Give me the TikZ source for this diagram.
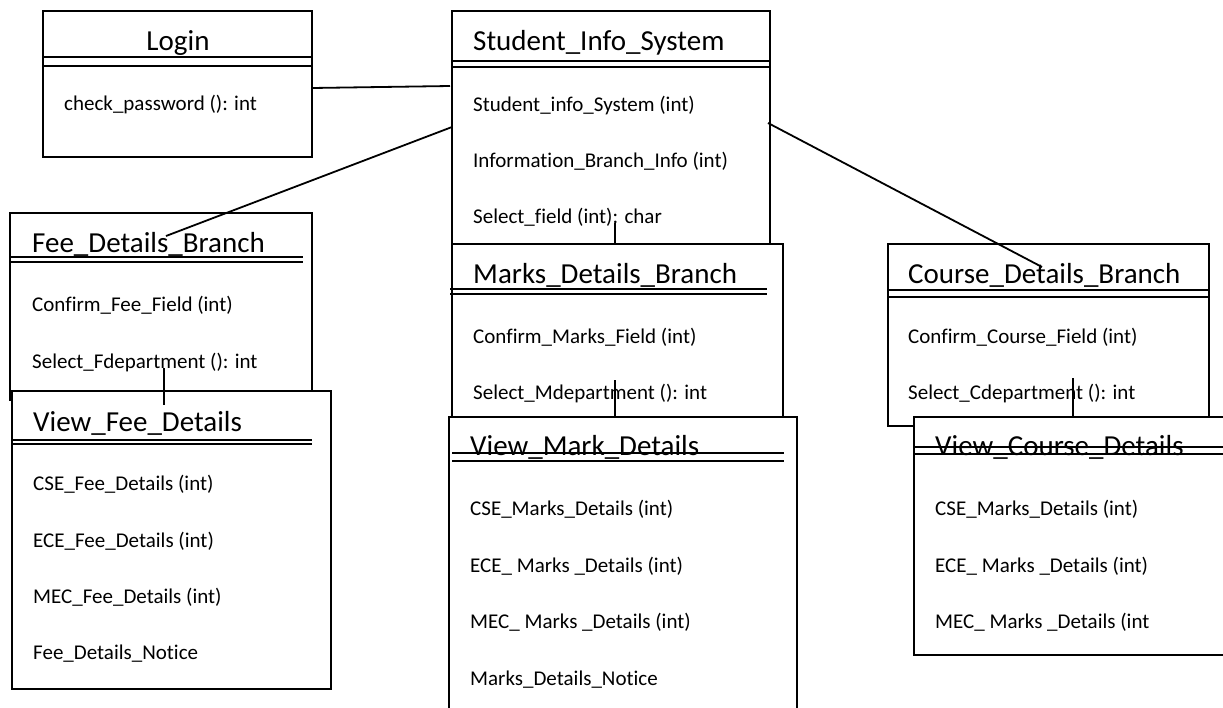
\documentclass[tikz,border=0pt]{standalone}
\usepackage{fontspec}
\setmainfont{Carlito}[Ligatures=NoCommon]
\begin{document}
\begin{tikzpicture}[x=1pt,y=-1pt,
  box/.style={draw,line width=2pt,fill=white,inner sep=0pt,outer sep=0pt,anchor=north west},
  sep/.style={line width=1.6pt},
  conn/.style={line width=1.8pt},
  title/.style={anchor=base west,inner sep=0pt,font=\fontsize{29}{34}\selectfont},
  item/.style={anchor=base west,inner sep=0pt,font=\fontsize{21}{25}\selectfont}]
\useasboundingbox (0,0) rectangle (1223,707);
\fill[white] (0,0) rectangle (1223,707);
\clip (0,0) rectangle (1223,707);

% Login
\node[box,minimum width=269pt,minimum height=146pt] (login) at (43,11) {};
\draw[sep] (43,57) -- (312,57) (43,66) -- (312,66);
\node[title,anchor=base] (logint) at (178,50) {Login};
\node[item] (login1) at (64,110) {check\_password (): int};

% Student_Info_System
\node[box,minimum width=318pt,minimum height=233pt] (sis) at (452,11) {};
\draw[sep] (452,61) -- (770,61) (452,67) -- (770,67);
\node[title] (sist) at (473,50) {Student\_Info\_System};
\node[item] (sis1) at (473,111) {Student\_info\_System (int)};
\node[item] (sis2) at (473,167) {Information\_Branch\_Info (int)};
\node[item] (sis3) at (473,223) {Select\_field (int): char};

% Fee_Details_Branch
\node[box,minimum width=302pt,minimum height=187pt] (fee) at (10,213) {};
\draw[sep] (10,257) -- (303,257) (10,262) -- (303,262);
\node[title] (feet) at (32,252) {Fee\_Details\_Branch};
\node[item] (fee1) at (32,311) {Confirm\_Fee\_Field (int)};
\node[item] (fee2) at (32,368) {Select\_Fdepartment (): int};

% Marks_Details_Branch
\node[box,minimum width=331pt,minimum height=186pt] (marks) at (452,244) {};
\draw[sep] (450,289) -- (767,289) (450,294) -- (767,294);
\node[title] (markst) at (473,283) {Marks\_Details\_Branch};
\node[item] (marks1) at (473,343) {Confirm\_Marks\_Field (int)};
\node[item] (marks2) at (473,399) {Select\_Mdepartment (): int};

% Course_Details_Branch
\node[box,minimum width=321pt,minimum height=182pt] (course) at (888,244) {};
\draw[sep] (888,290) -- (1209,290) (888,297) -- (1209,297);
\node[title] (courset) at (908,283) {Course\_Details\_Branch};
\node[item] (course1) at (908,343) {Confirm\_Course\_Field (int)};
\node[item] (course2) at (908,399) {Select\_Cdepartment (): int};

% View_Fee_Details
\node[box,minimum width=319pt,minimum height=298pt] (vfee) at (12,391) {};
\draw[sep] (12,440) -- (312,440) (12,444) -- (312,444);
\node[title] (vfeet) at (33,431) {View\_Fee\_Details};
\node[item] (vfee1) at (33,490) {CSE\_Fee\_Details (int)};
\node[item] (vfee2) at (33,547) {ECE\_Fee\_Details (int)};
\node[item] (vfee3) at (33,603) {MEC\_Fee\_Details (int)};
\node[item] (vfee4) at (33,659) {Fee\_Details\_Notice};

% View_Mark_Details
\node[box,minimum width=348pt,minimum height=303pt] (vmark) at (449,417) {};
\node[title] (vmarkt) at (470,455) {View\_Mark\_Details};
\draw[sep] (452,453) -- (784,453) (452,461) -- (784,461);
\node[item] (vmark1) at (470,515) {CSE\_Marks\_Details (int)};
\node[item] (vmark2) at (470,572) {ECE\_ Marks \_Details (int)};
\node[item] (vmark3) at (470,628) {MEC\_ Marks \_Details (int)};
\node[item] (vmark4) at (470,685) {Marks\_Details\_Notice};

% View_Course_Details
\node[box,minimum width=380pt,minimum height=238pt] (vcourse) at (914,417) {};
\node[title] (vcourset) at (935,455) {View\_Course\_Details};
\draw[sep] (914,447) -- (1290,447) (914,454) -- (1290,454);
\node[item] (vcourse1) at (935,515) {CSE\_Marks\_Details (int)};
\node[item] (vcourse2) at (935,572) {ECE\_ Marks \_Details (int)};
\node[item] (vcourse3) at (935,628) {MEC\_ Marks \_Details (int};

% connector end points
\coordinate (pLoginR) at (312,88);
\coordinate (pSisL1) at (450,86);
\coordinate (pSisL2) at (452,127);
\coordinate (pFeeIn) at (166,236);
\coordinate (pSisR) at (768,123);
\coordinate (pCourseIn) at (1042,267);
\coordinate (pSisDn) at (615,223);
\coordinate (pMarksTop) at (615,244);
\coordinate (pFeeDn) at (164,368);
\coordinate (pVFeeIn) at (164,405);
\coordinate (pMarksDn) at (615,380);
\coordinate (pVMarkTop) at (615,418);
\coordinate (pCourseDn) at (1073,378);
\coordinate (pVCourseTop) at (1073,417);

\draw[conn] (pLoginR) -- (pSisL1);
\draw[conn] (pSisL2) -- (pFeeIn);
\draw[conn] (pSisR) -- (pCourseIn);
\draw[conn] (pSisDn) -- (pMarksTop);
\draw[conn] (pFeeDn) -- (pVFeeIn);
\draw[conn] (pMarksDn) -- (pVMarkTop);
\draw[conn] (pCourseDn) -- (pVCourseTop);
\end{tikzpicture}
\end{document}
